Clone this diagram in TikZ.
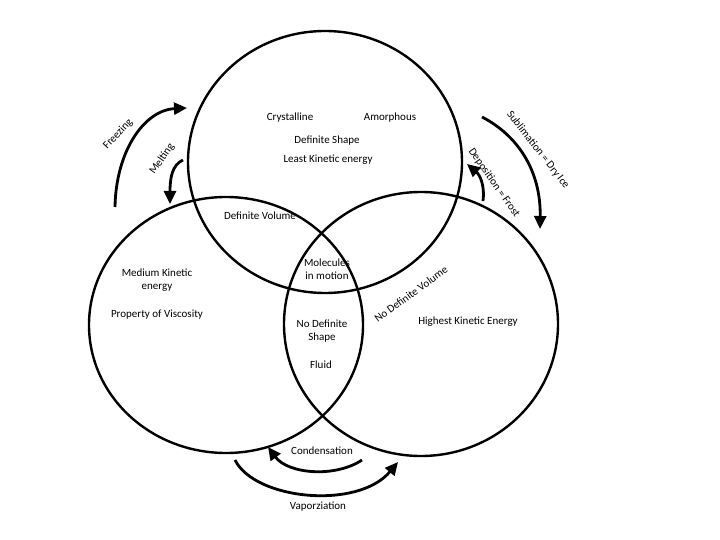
\documentclass[tikz,border=0pt]{standalone}
\usepackage{fontspec}
\setmainfont{Carlito}
\usetikzlibrary{arrows.meta}

\tikzset{
  phase/.style={black, line width=2.4pt},
  change/.style={black, line width=2.8pt, -{Triangle[length=13pt,width=12pt]}},
  lbl/.style={inner sep=0pt, font=\fontsize{11}{13.5}\selectfont, align=center}
}

\begin{document}
\begin{tikzpicture}[x=1pt,y=-1pt]
\useasboundingbox (0,0) rectangle (720,540);
% the three phases
\coordinate (solid) at (325,162);
\coordinate (liquid) at (226,325);
\coordinate (gas) at (421,324);
\draw [phase] (solid) ellipse [x radius=137, y radius=131];
\draw [phase] (liquid) ellipse [x radius=137, y radius=128];
\draw [phase] (gas) ellipse [x radius=137, y radius=132];
% texts inside
\node [lbl] (crystal) at (290,118) {Crystalline};
\node [lbl] (amorph) at (390,118) {Amorphous};
\node [lbl] (defshape) at (327,141) {Definite Shape};
\node [lbl] (leastke) at (328,160) {Least Kinetic energy};
\node [lbl] (defvol) at (260,216) {Definite Volume};
\node [lbl] (motion) at (327,269) {Molecules\\in motion};
\node [lbl] (mediumke) at (157,280) {Medium Kinetic\\energy};
\node [lbl] (viscos) at (157,315) {Property of Viscosity};
\node [lbl] (nodefshape) at (322,331) {No Definite\\Shape};
\node [lbl] (fluid) at (321,365) {Fluid};
\node [lbl, rotate=36] (nodefvol) at (411,294) {No Definite Volume};
\node [lbl] (highke) at (468,322) {Highest Kinetic Energy};
% phase changes
\coordinate (freeze1) at (115,207);
\coordinate (freeze2) at (187,108);
\draw [change] (freeze1) .. controls (116,150) and (145,110) .. (freeze2);
\node [lbl, rotate=47] (freeze) at (118,134) {Freezing};
\coordinate (melt1) at (183,160);
\coordinate (melt2) at (170,204);
\draw [change] (melt1) .. controls (172,165) and (170,178) .. (melt2);
\node [lbl, rotate=55] (melt) at (162,159) {Melting};
\coordinate (subl1) at (482,117);
\coordinate (subl2) at (540,229);
\draw [change] (subl1) .. controls (517,135) and (541,170) .. (subl2);
\node [lbl, rotate=-52] (subl) at (538,150) {Sublimation = Dry Ice};
\coordinate (depo1) at (483,201);
\coordinate (depo2) at (467,164);
\draw [change] (depo1) .. controls (485,186) and (480,175) .. (depo2);
\node [lbl, rotate=-55] (depo) at (494,183) {Deposition = Frost};
\coordinate (cond1) at (362,460);
\coordinate (cond2) at (268,447);
\draw [change] (cond1) .. controls (335,478) and (288,474) .. (cond2);
\node [lbl] (cond) at (322,451) {Condensation};
\coordinate (vapor1) at (235,460);
\coordinate (vapor2) at (398,462);
\draw [change] (vapor1) .. controls (255,500) and (358,510) .. (vapor2);
\node [lbl] (vapor) at (318,507) {Vaporziation};
\end{tikzpicture}
\end{document}
